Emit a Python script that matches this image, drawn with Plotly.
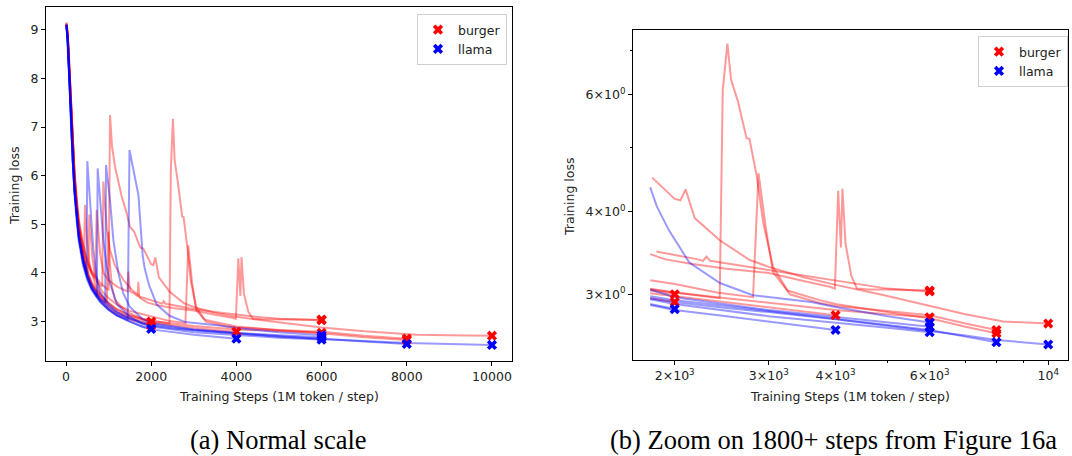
import plotly.graph_objects as go

# ---------------- data ----------------
# burger runs (red)
burger_1_steps = [10, 40, 80, 120, 160, 200, 250, 300, 400, 500, 600, 800, 950, 1000, 1033, 1080, 1150, 1300, 1425, 1500, 1530, 1600, 1700, 1750, 1815, 1900, 2000, 2050, 2096, 2180, 2428, 2763, 3000, 3500, 4000, 4841, 6000, 7000, 8237, 9000, 10000]
burger_1_loss = [9.15, 8.95, 8.25, 7.45, 6.7, 6.1, 5.55, 5.1, 4.6, 4.28, 4.05, 3.8, 3.68, 3.66, 7.25, 6.6, 6.19, 5.6, 5.23, 4.95, 4.92, 4.85, 4.62, 4.52, 4.5, 4.35, 4.18, 4.16, 4.32, 3.91, 3.62, 3.38, 3.3, 3.18, 3.1, 3.0, 2.88, 2.8, 2.73, 2.72, 2.71]

burger_2_steps = [10, 40, 80, 120, 160, 200, 250, 300, 400, 500, 600, 700, 800, 850, 876, 920, 960, 1033, 1150, 1345, 1550, 1737, 1848, 2000, 2200, 2260, 2293, 2330, 2500, 3000, 3500, 4441, 5000, 6000]
burger_2_loss = [9.12, 8.9, 8.2, 7.4, 6.65, 6.05, 5.5, 5.05, 4.55, 4.22, 4.0, 3.85, 3.75, 3.72, 5.88, 5.3, 4.9, 4.47, 4.15, 3.86, 3.65, 3.51, 3.48, 3.44, 3.39, 3.37, 3.42, 3.37, 3.34, 3.26, 3.2, 3.1, 3.06, 3.03]

burger_3_steps = [10, 40, 80, 120, 160, 200, 250, 300, 380, 420, 446, 470, 500, 550, 600, 700, 800, 1000, 1200, 1500, 1800, 2000, 2200, 2400, 2428, 2460, 2510, 2550, 2627, 2726, 2760, 2850, 2930, 3055, 3284, 3736, 4000, 5000, 6000, 7000, 8000]
burger_3_loss = [9.1, 8.9, 8.15, 7.3, 6.55, 5.95, 5.4, 4.95, 4.45, 4.3, 5.4, 5.0, 4.6, 4.2, 4.0, 3.75, 3.58, 3.38, 3.25, 3.13, 3.05, 3.02, 2.99, 2.97, 2.96, 6.1, 7.17, 6.32, 5.86, 5.16, 5.15, 4.51, 3.84, 3.3, 3.0, 2.91, 2.88, 2.83, 2.79, 2.71, 2.65]

burger_4_steps = [10, 40, 80, 120, 160, 200, 250, 300, 400, 500, 520, 547, 580, 620, 680, 760, 850, 1000, 1200, 1500, 1800, 2000, 2400, 2803, 2870, 2960, 3055, 3250, 3736, 4000, 5000, 6000, 7000, 8000]
burger_4_loss = [9.1, 8.85, 8.1, 7.25, 6.5, 5.9, 5.35, 4.9, 4.35, 4.05, 4.0, 5.2, 4.8, 4.3, 3.95, 3.75, 3.62, 3.48, 3.35, 3.22, 3.15, 3.11, 3.02, 2.97, 4.57, 3.79, 3.24, 3.04, 2.94, 2.9, 2.82, 2.76, 2.68, 2.62]

burger_5_steps = [10, 40, 80, 120, 160, 200, 250, 300, 400, 500, 600, 690, 720, 750, 800, 880, 1000, 1200, 1400, 1440, 1463, 1500, 1600, 1680, 1697, 1720, 1800, 1914, 2128, 2500, 3000, 3146, 3500, 3900, 3988, 4045, 4093, 4120, 4175, 4280, 4386, 4600, 5000, 6000]
burger_5_loss = [9.1, 8.9, 8.15, 7.35, 6.6, 6.0, 5.45, 5.0, 4.5, 4.2, 4.0, 3.9, 5.3, 4.9, 4.4, 4.0, 3.85, 3.72, 3.64, 3.62, 4.03, 3.62, 3.58, 3.52, 3.82, 3.5, 3.45, 3.39, 3.34, 3.28, 3.23, 3.2, 3.14, 3.08, 3.06, 4.3, 3.53, 4.33, 3.58, 3.2, 3.06, 3.05, 3.05, 3.04]

burger_6_steps = [10, 40, 80, 120, 160, 200, 250, 300, 400, 500, 600, 800, 960, 993, 1030, 1080, 1150, 1300, 1500, 1800, 2000, 2500, 3000, 4000, 5000, 6000]
burger_6_loss = [9.1, 8.85, 8.1, 7.25, 6.5, 5.9, 5.35, 4.9, 4.35, 4.0, 3.78, 3.52, 3.4, 4.85, 4.2, 3.7, 3.45, 3.3, 3.17, 3.06, 3.02, 2.96, 2.91, 2.84, 2.8, 2.77]

burger_7_steps = [10, 40, 80, 120, 160, 200, 250, 300, 400, 500, 600, 800, 1000, 1200, 1500, 1800, 2000, 2500, 3000, 3500, 4000]
burger_7_loss = [9.12, 8.85, 8.1, 7.3, 6.5, 5.9, 5.35, 4.9, 4.35, 4.0, 3.78, 3.5, 3.33, 3.2, 3.08, 3.01, 2.98, 2.92, 2.87, 2.83, 2.79]

burger_8_steps = [10, 40, 80, 120, 160, 200, 250, 300, 400, 500, 600, 800, 1000, 1200, 1500, 1800, 2000]
burger_8_loss = [9.15, 8.9, 8.2, 7.4, 6.6, 6.0, 5.4, 4.95, 4.4, 4.05, 3.82, 3.55, 3.38, 3.25, 3.12, 3.04, 3.0]

burger_9_steps = [10, 40, 80, 120, 160, 200, 250, 300, 400, 500, 600, 800, 1000, 1200, 1500, 1800, 2000]
burger_9_loss = [9.1, 8.8, 8.05, 7.2, 6.45, 5.85, 5.3, 4.85, 4.3, 3.95, 3.72, 3.45, 3.28, 3.16, 3.04, 2.96, 2.92]

# llama runs (blue)
llama_1_steps = [10, 40, 80, 120, 160, 200, 250, 300, 400, 500, 600, 800, 1000, 1200, 1500, 1800, 2000, 2500, 3000, 4000, 5000, 6000, 7000, 8000, 9000, 10000]
llama_1_loss = [9.05, 8.8, 8.0, 7.15, 6.35, 5.75, 5.2, 4.8, 4.3, 3.98, 3.75, 3.48, 3.3, 3.18, 3.05, 2.96, 2.92, 2.86, 2.82, 2.75, 2.69, 2.64, 2.6, 2.56, 2.54, 2.52]

llama_2_steps = [10, 40, 80, 120, 160, 200, 250, 300, 400, 480, 500, 530, 563, 600, 641, 720, 800, 1000, 1200, 1500, 1800, 2000, 2500, 3000, 4000, 5000, 6000, 7000, 8000]
llama_2_loss = [9.1, 8.8, 8.0, 7.1, 6.3, 5.7, 5.15, 4.75, 4.25, 3.98, 6.3, 6.0, 5.5, 5.0, 4.5, 3.9, 3.6, 3.35, 3.2, 3.07, 2.98, 2.94, 2.88, 2.83, 2.76, 2.7, 2.65, 2.59, 2.54]

llama_3_steps = [10, 40, 80, 120, 160, 200, 250, 300, 400, 500, 600, 700, 725, 743, 798, 876, 955, 1033, 1200, 1500, 1800, 2000, 3000, 4000, 5000, 6000]
llama_3_loss = [9.1, 8.75, 7.95, 7.05, 6.3, 5.7, 5.15, 4.75, 4.25, 3.92, 3.7, 3.55, 3.5, 6.15, 5.5, 4.68, 4.13, 3.79, 3.35, 3.1, 2.95, 2.9, 2.78, 2.72, 2.67, 2.63]

llama_4_steps = [10, 40, 80, 120, 160, 200, 250, 300, 400, 500, 600, 800, 1000, 1200, 1430, 1447, 1490, 1520, 1600, 1700, 1800, 1850, 1950, 2130, 2430, 2800, 3600, 4000, 5000, 6000]
llama_4_loss = [9.1, 8.8, 8.0, 7.1, 6.3, 5.7, 5.15, 4.75, 4.25, 3.92, 3.7, 3.42, 3.25, 3.13, 3.05, 3.03, 6.53, 6.4, 6.0, 5.6, 4.35, 4.08, 3.75, 3.35, 3.12, 2.99, 2.92, 2.87, 2.78, 2.72]

llama_5_steps = [10, 40, 80, 120, 160, 200, 250, 300, 400, 500, 600, 800, 900, 920, 939, 1033, 1111, 1228, 1345, 1500, 1800, 2000, 3000, 4000, 5000, 6000]
llama_5_loss = [9.1, 8.8, 8.0, 7.1, 6.3, 5.7, 5.15, 4.75, 4.25, 3.92, 3.7, 3.45, 3.4, 3.38, 6.22, 5.5, 4.68, 4.0, 3.58, 3.3, 3.05, 2.97, 2.84, 2.77, 2.72, 2.68]

llama_6_steps = [10, 40, 80, 120, 160, 200, 250, 300, 400, 500, 600, 800, 1000, 1200, 1500, 1800, 2000, 2500, 3000, 3500, 4000]
llama_6_loss = [9.1, 8.75, 7.95, 7.05, 6.25, 5.65, 5.1, 4.7, 4.2, 3.9, 3.68, 3.42, 3.25, 3.13, 3.0, 2.89, 2.84, 2.78, 2.73, 2.69, 2.65]

llama_7_steps = [10, 40, 80, 120, 160, 200, 250, 300, 400, 500, 600, 800, 1000, 1200, 1500, 1800, 2000]
llama_7_loss = [9.12, 8.7, 7.9, 7.0, 6.2, 5.6, 5.05, 4.65, 4.15, 3.85, 3.65, 3.4, 3.24, 3.12, 3.0, 2.9, 2.85]

burger_runs = [
    (burger_1_steps, burger_1_loss), (burger_2_steps, burger_2_loss),
    (burger_3_steps, burger_3_loss), (burger_4_steps, burger_4_loss),
    (burger_5_steps, burger_5_loss), (burger_6_steps, burger_6_loss),
    (burger_7_steps, burger_7_loss), (burger_8_steps, burger_8_loss),
    (burger_9_steps, burger_9_loss),
]
llama_runs = [
    (llama_1_steps, llama_1_loss), (llama_2_steps, llama_2_loss),
    (llama_3_steps, llama_3_loss), (llama_4_steps, llama_4_loss),
    (llama_5_steps, llama_5_loss), (llama_6_steps, llama_6_loss),
    (llama_7_steps, llama_7_loss),
]

zoom_start = 1800
left_xticks = [0, 2000, 4000, 6000, 8000, 10000]
left_xticktext = ["0", "2000", "4000", "6000", "8000", "10000"]
left_yticks = [3, 4, 5, 6, 7, 8, 9]
right_xticks = [2000, 3000, 4000, 6000, 10000]
right_xticktext = ["2×10<sup>3</sup>", "3×10<sup>3</sup>", "4×10<sup>3</sup>", "6×10<sup>3</sup>", "10<sup>4</sup>"]
right_xminor = [5000, 7000, 8000, 9000]
right_yticks = [3, 4, 6]
right_yticktext = ["3×10<sup>0</sup>", "4×10<sup>0</sup>", "6×10<sup>0</sup>"]
right_yminor = [5, 7]

# ---------------- figure ----------------
W, H = 1072, 456
RED_LINE = "rgba(255,0,0,0.4)"
BLUE_LINE = "rgba(0,0,255,0.4)"
FONT = "DejaVu Sans"
SERIF = "Liberation Serif, DejaVu Serif, serif"
TXT = "#222222"

fig = go.Figure()

def add_runs(runs, line_color):
    for steps, loss in runs:
        fig.add_trace(go.Scatter(x=steps, y=loss, mode="lines",
                                 line=dict(color=line_color, width=2),
                                 xaxis="x", yaxis="y", showlegend=False, hoverinfo="skip"))
        zs = [s for s in steps if s >= zoom_start]
        zl = [l for s, l in zip(steps, loss) if s >= zoom_start]
        fig.add_trace(go.Scatter(x=zs, y=zl, mode="lines",
                                 line=dict(color=line_color, width=2),
                                 xaxis="x2", yaxis="y2", showlegend=False, hoverinfo="skip"))

def add_markers(runs, color):
    ex = [s[-1] for s, l in runs]
    ey = [l[-1] for s, l in runs]
    for xa, ya in (("x", "y"), ("x2", "y2")):
        fig.add_trace(go.Scatter(x=ex, y=ey, mode="markers",
                                 marker=dict(symbol="x", size=9, color=color, line=dict(width=0)),
                                 xaxis=xa, yaxis=ya, showlegend=False, hoverinfo="skip"))

add_runs(burger_runs, RED_LINE)
add_runs(llama_runs, BLUE_LINE)
add_markers(burger_runs, "red")
add_markers(llama_runs, "blue")

# legend entries
for name, color in (("burger", "red"), ("llama", "blue")):
    for lg in ("legend", "legend2"):
        fig.add_trace(go.Scatter(x=[None], y=[None], mode="markers", name=name,
                                 marker=dict(symbol="x", size=9, color=color, line=dict(width=0)),
                                 legend=lg, showlegend=True, xaxis="x", yaxis="y"))

axis_common = dict(showline=True, linecolor="black", linewidth=1, mirror=True,
                   ticks="outside", ticklen=4, tickcolor="black", showgrid=False,
                   zeroline=False, tickfont=dict(family=FONT, size=12.5, color=TXT))

def px_x(p):
    return p / W

def px_y(p):
    return 1 - p / H

fig.update_layout(
    width=W, height=H, margin=dict(l=0, r=0, t=0, b=0),
    paper_bgcolor="white", plot_bgcolor="white",
    font=dict(family=FONT, size=12.5, color=TXT),
    xaxis=dict(domain=[px_x(46), px_x(512)], range=[-470, 10470], anchor="y",
               tickmode="array", tickvals=left_xticks, ticktext=left_xticktext, **axis_common),
    yaxis=dict(domain=[px_y(361), px_y(7)], range=[2.19, 9.47], anchor="x",
               tickmode="array", tickvals=left_yticks, **axis_common),
    xaxis2=dict(domain=[px_x(633), px_x(1068)], type="log", range=[3.223, 4.037], anchor="y2",
                tickmode="array", tickvals=right_xticks, ticktext=right_xticktext,
                minor=dict(tickmode="array", tickvals=right_xminor, ticks="outside",
                           ticklen=2, tickcolor="black"),
                **axis_common),
    yaxis2=dict(domain=[px_y(360), px_y(30)], type="log", range=[0.378, 0.876], anchor="x2",
                tickmode="array", tickvals=right_yticks, ticktext=right_yticktext,
                minor=dict(tickmode="array", tickvals=right_yminor, ticks="outside",
                           ticklen=2, tickcolor="black"),
                **axis_common),
    legend=dict(x=px_x(417), y=px_y(14), xanchor="left", yanchor="top",
                bgcolor="white", bordercolor="#d0d0d0", borderwidth=1,
                font=dict(family=FONT, size=12.5, color=TXT), tracegroupgap=0),
    legend2=dict(x=px_x(978), y=px_y(36), xanchor="left", yanchor="top",
                 bgcolor="white", bordercolor="#d0d0d0", borderwidth=1,
                 font=dict(family=FONT, size=12.5, color=TXT), tracegroupgap=0),
)

annots = [
    dict(text="Training Steps (1M token / step)", x=px_x(279), y=px_y(396), textangle=0),
    dict(text="Training loss", x=px_x(14), y=px_y(186), textangle=-90),
    dict(text="Training Steps (1M token / step)", x=px_x(850), y=px_y(396), textangle=0),
    dict(text="Training loss", x=px_x(569), y=px_y(197), textangle=-90),
]
for a in annots:
    fig.add_annotation(xref="paper", yref="paper", showarrow=False,
                       xanchor="center", yanchor="middle",
                       font=dict(family=FONT, size=12.5, color=TXT), **a)

fig.add_annotation(text="(a) Normal scale", x=px_x(278), y=px_y(440), xref="paper", yref="paper",
                   showarrow=False, xanchor="center", yanchor="middle",
                   font=dict(family=SERIF, size=26.5, color="black"))
fig.add_annotation(text="(b) Zoom on 1800+ steps from Figure 16a", x=px_x(833), y=px_y(440),
                   xref="paper", yref="paper", showarrow=False, xanchor="center", yanchor="middle",
                   font=dict(family=SERIF, size=26.5, color="black"))

fig.write_html("out.html")
